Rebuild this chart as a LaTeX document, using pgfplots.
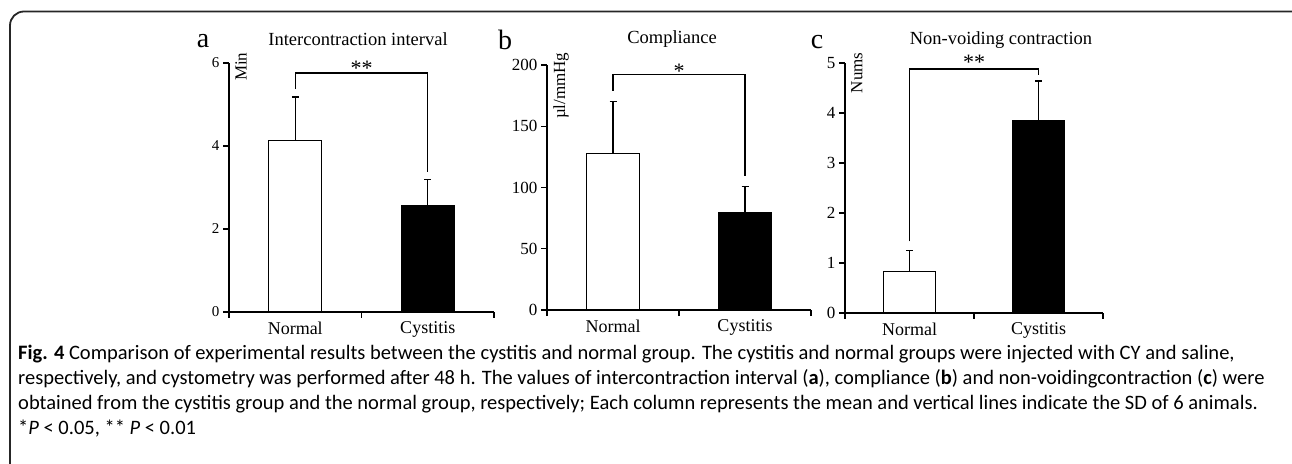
\documentclass[border=0pt]{standalone}
\usepackage{pgfplots}
\pgfplotsset{compat=1.18}
\usepackage{fontspec}
\setmainfont{Liberation Serif}
\newfontfamily\capfont{Carlito}
\begin{document}
\begin{tikzpicture}[x=1pt,y=1pt]
\useasboundingbox (0pt,0pt) rectangle (1292pt,463pt);
\pgfplotsset{
 panel/.style={
  scale only axis, enlargelimits=false, clip=false,
  axis x line=bottom, axis y line=left,
  axis line style={-, line width=1.2pt, black},
  xmin=-0.5, xmax=1.5, ymin=0,
  xtick={-0.5,0.5,1.5}, xticklabels={},
  extra x ticks={0,1}, extra x tick labels={Normal,Cystitis},
  extra x tick style={major tick length=0pt},
  tick align=outside, major tick length=6pt,
  tick style={line width=1.2pt, black},
  xticklabel style={font=\fontsize{18}{20}\selectfont, yshift=-6pt},
  yticklabel style={font=\fontsize{17}{19}\selectfont},
  /pgf/number format/assume math mode=true,
  minor tick num=0,
 },
 wbar/.style={ybar, bar width=0.4, bar shift=0pt, fill=white, draw=black, line width=1.2pt,
   error bars/.cd, y dir=plus, y explicit, error bar style={line width=1.2pt, black},
   error mark options={rotate=90, line width=1.2pt, mark size=3.5pt, black}},
 bbar/.style={ybar, bar width=0.4, bar shift=0pt, fill=black, draw=black, line width=1.2pt,
   error bars/.cd, y dir=plus, y explicit, error bar style={line width=1.2pt, black},
   error mark options={rotate=90, line width=1.2pt, mark size=3.5pt, black}},
 brk/.style={no marks, sharp plot, black, line width=1.2pt},
}
% frame
\draw[line width=1.8pt, black!85, rounded corners=14pt] (10pt,-5pt) -- (10pt,451.5pt) -- (1300pt,451.5pt);

% panel a
\begin{axis}[panel, at={(229pt,151pt)}, anchor=south west, width=265pt, height=249pt,
  ymax=6, ytick={0,2,4,6}, yticklabel style={font=\fontsize{15}{17}\selectfont}]
\addplot[wbar] coordinates {(0,4.14) +- (0,1.04)};
\addplot[bbar] coordinates {(1,2.56) +- (0,0.64)};
\addplot[brk] coordinates {(0,5.37) (0,5.76) (1,5.76) (1,3.37)};
\node[font=\fontsize{22}{24}\selectfont, anchor=base] at (axis cs:0.5,5.70) {**};
\end{axis}

% panel b
\begin{axis}[panel, at={(547pt,153pt)}, anchor=south west, width=264pt, height=245pt,
  ymax=200, ytick={0,50,100,150,200}]
\addplot[wbar] coordinates {(0,128) +- (0,42)};
\addplot[bbar] coordinates {(1,79.5) +- (0,21.5)};
\addplot[brk] coordinates {(0,179) (0,192) (1,192) (1,109)};
\node[font=\fontsize{22}{24}\selectfont, anchor=base] at (axis cs:0.5,189) {*};
\end{axis}

% panel c
\begin{axis}[panel, at={(845pt,150pt)}, anchor=south west, width=258pt, height=250pt,
  ymax=5, ytick={0,1,2,3,4,5}]
\addplot[wbar] coordinates {(0,0.83) +- (0,0.42)};
\addplot[bbar] coordinates {(1,3.85) +- (0,0.79)};
\addplot[brk] coordinates {(0,1.43) (0,4.88) (1,4.88) (1,4.76)};
\node[font=\fontsize{22}{24}\selectfont, anchor=base] at (axis cs:0.5,4.86) {**};
\end{axis}

% titles and panel letters
\node[font=\fontsize{18.5}{20}\selectfont] at (358pt,424pt) {Intercontraction interval};
\node[font=\fontsize{18.5}{20}\selectfont] at (672pt,424pt) {Compliance};
\node[font=\fontsize{18.5}{20}\selectfont] at (1001pt,423pt) {Non-voiding contraction};
\node[font=\fontsize{28}{30}\selectfont] at (203pt,422pt) {a};
\node[font=\fontsize{28}{30}\selectfont] at (505pt,423pt) {b};
\node[font=\fontsize{28}{30}\selectfont] at (817pt,421pt) {c};
% y axis labels
\node[rotate=90, anchor=east, font=\fontsize{17}{19}\selectfont] at (241pt,414pt) {Min};
\node[rotate=90, anchor=east, font=\fontsize{17}{19}\selectfont] at (561pt,414pt) {\textmu l/mmHg};
\node[rotate=90, anchor=east, font=\fontsize{17}{19}\selectfont] at (857pt,414pt) {Nums};

% caption
\begin{scope}[every node/.style={anchor=base west, inner sep=0pt, font=\capfont\fontsize{20.5}{23}\selectfont}]
\node at (18pt,103pt) {\textbf{Fig. 4} Comparison of experimental results between the cystitis and normal group. The cystitis and normal groups were injected with CY and saline,};
\node at (18pt,78pt) {respectively, and cystometry was performed after 48 h. The values of intercontraction interval (\textbf{a}), compliance (\textbf{b}) and non-voidingcontraction (\textbf{c}) were};
\node at (18pt,53pt) {obtained from the cystitis group and the normal group, respectively; Each column represents the mean and vertical lines indicate the SD of 6 animals.};
\node at (18pt,29pt) {*\textit{P} < 0.05, ** \textit{P} < 0.01};
\end{scope}
\end{tikzpicture}
\end{document}
